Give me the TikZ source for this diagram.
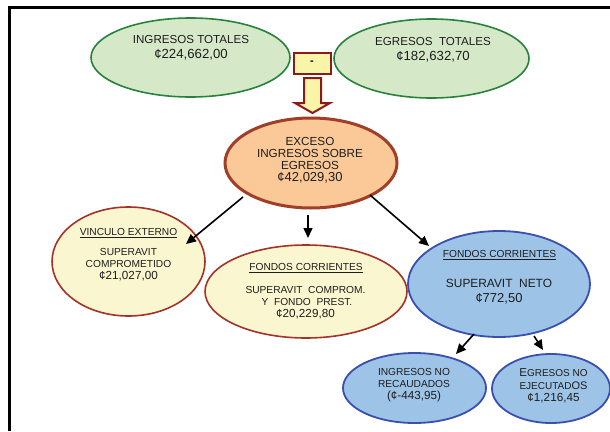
\documentclass[tikz,border=0pt]{standalone}
\usepackage{fontspec}
\setmainfont{Liberation Sans}
\usetikzlibrary{shapes.geometric,arrows.meta,calc}
\definecolor{gfill}{RGB}{213,232,200}
\definecolor{gline}{RGB}{40,130,60}
\definecolor{ofill}{RGB}{251,201,152}
\definecolor{oline}{RGB}{160,62,40}
\definecolor{yfill}{RGB}{250,246,208}
\definecolor{yline}{RGB}{165,50,40}
\definecolor{bfill}{RGB}{157,195,230}
\definecolor{bline}{RGB}{58,79,176}
\definecolor{mfill}{RGB}{249,245,168}
\definecolor{mline}{RGB}{139,26,26}
\definecolor{txt}{RGB}{30,30,30}
\newcommand{\lbl}{\fontsize{10.2}{11.5}\selectfont}
\newcommand{\val}{\fontsize{11.7}{13}\selectfont}
\begin{document}
\begin{tikzpicture}[x=1pt,y=-1pt,
  oval/.style={ellipse,inner sep=0pt,draw},
  greenoval/.style={oval,fill=gfill,draw=gline,line width=1.6pt},
  orangeoval/.style={oval,fill=ofill,draw=oline,line width=3pt},
  yeloval/.style={oval,fill=yfill,draw=yline,line width=1.6pt},
  blueoval/.style={oval,fill=bfill,draw=bline,line width=1.8pt},
  tx/.style={align=center,inner sep=0pt,text=txt,anchor=north},
  conn/.style={line width=1.6pt,-{Triangle[length=10pt,width=9pt]}}
]
\useasboundingbox (0,0) rectangle (610,431);
% frame
\draw[line width=3pt] (9.5,431) -- (9.5,7.5) -- (610,7.5);

% top ellipses
\node[greenoval,minimum width=199pt,minimum height=79pt] (ing) at (190.5,57.5) {};
\node[tx,font=\fontsize{11.6}{15.5}\selectfont] (ingt) at (191,34.8) {INGRESOS TOTALES\\{\fontsize{13.2}{15.5}\selectfont ¢224,662,00}};
\node[greenoval,minimum width=195pt,minimum height=79pt] (egr) at (431.5,58.5) {};
\node[tx,font=\fontsize{11.6}{15.5}\selectfont] (egrt) at (433,36.8) {EGRESOS\ \ TOTALES\\{\fontsize{13.2}{15.5}\selectfont ¢182,632,70}};

% minus box
\node[draw=mline,fill=mfill,line width=2pt,minimum width=37pt,minimum height=21pt,inner sep=0pt,font=\bfseries\fontsize{11}{11}\selectfont] (minus) at (312,63) {-};

% big down arrow
\draw[draw=mline,fill=mfill,line width=2pt,line join=miter]
  (304,78) -- (321,78) -- (321,103) -- (330,103) -- (312.5,113) -- (295,103) -- (304,103) -- cycle;

% exceso
\node[orangeoval,minimum width=172pt,minimum height=90pt] (exc) at (311,163) {};
\node[tx,font=\fontsize{11.7}{12.3}\selectfont] (exct) at (310,136.8) {EXCESO\\INGRESOS SOBRE\\EGRESOS\\[-0.8pt]{\fontsize{13}{12.3}\selectfont ¢42,029,30}};

% vinculo externo
\node[yeloval,minimum width=153pt,minimum height=109pt] (vinc) at (128.5,261.5) {};
\node[tx,font=\lbl] (vinch) at (128.5,228.3) {\underline{VINCULO EXTERNO}};
\node[tx,font=\lbl] (vincb) at (128.5,248.3) {SUPERAVIT\\COMPROMETIDO\\[1pt]{\val ¢21,027,00}};

% fondos corrientes (yellow)
\node[yeloval,minimum width=202pt,minimum height=93pt] (fcy) at (306,291.5) {};
\node[tx,font=\lbl] (fcyh) at (306,263.3) {\underline{FONDOS CORRIENTES}};
\node[tx,font=\lbl] (fcyb) at (305.5,286.3) {SUPERAVIT\ \ COMPROM.\\\ Y\ \ FONDO\ \ PREST.\\[1pt]{\val ¢20,229,80}};

% fondos corrientes (blue)
\node[blueoval,minimum width=182pt,minimum height=106pt] (fcb) at (499,284) {};
\node[tx,font=\lbl] (fcbh) at (499.5,250.3) {\underline{FONDOS CORRIENTES}};
\node[tx,font=\fontsize{11.9}{15.4}\selectfont] (fcbb) at (499,278.7) {SUPERAVIT\ \ NETO\\{\fontsize{13}{15.4}\selectfont ¢772,50}};

% ingresos no recaudados
\node[blueoval,minimum width=143pt,minimum height=70pt] (inr) at (414.5,388) {};
\node[tx,font=\fontsize{10.2}{12}\selectfont] (inrt) at (414,368.3) {INGRESOS NO\\RECAUDADOS\\{\val (¢-443,95)}};

% egresos no ejecutados
\node[blueoval,minimum width=118pt,minimum height=69pt] (ene) at (551,388.5) {};
\node[tx,font=\fontsize{10}{12.5}\selectfont] (enet) at (553.5,368.8) {{\fontsize{11.5}{12.5}\selectfont E}GRESOS NO\\EJECUTAD{\fontsize{11}{12.5}\selectfont OS}\\{\val ¢1,216,45}};

% connectors
\draw[conn] ($(exc)+(-68,34)$) -- ($(vinc)+(57.5,-17.5)$);
\draw[conn] ($(exc)+(-3,52)$) -- ($(fcy)+(2,-53.5)$);
\draw[conn] ($(exc)+(59,32)$) -- ($(fcb)+(-70,-38)$);
\draw[conn] ($(fcb)+(-25,50)$) -- ($(inr)+(41.5,-34)$);
\draw[conn] ($(fcb)+(35,52)$) -- ($(ene)+(-8,-38.5)$);
\end{tikzpicture}
\end{document}
